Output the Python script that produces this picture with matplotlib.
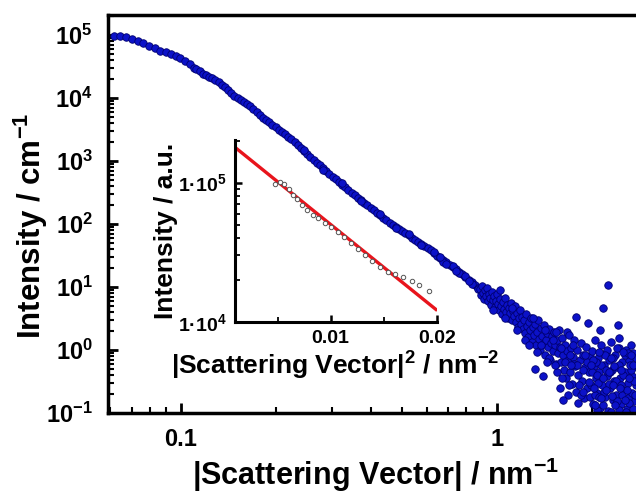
import matplotlib
matplotlib.use('Agg')
import matplotlib.pyplot as plt
from matplotlib.ticker import LogLocator, FixedLocator, FixedFormatter, NullFormatter, MultipleLocator

plt.rcParams['font.family'] = 'Liberation Sans'
plt.rcParams['font.weight'] = 'bold'
plt.rcParams['mathtext.fontset'] = 'custom'
plt.rcParams['mathtext.rm'] = 'Liberation Sans:bold'
plt.rcParams['mathtext.bf'] = 'Liberation Sans:bold'
plt.rcParams['mathtext.it'] = 'Liberation Sans:bold'
plt.rcParams['mathtext.default'] = 'bf'

# main curve: low q (separate dots)
q_low = [0.0616, 0.0643, 0.0671, 0.0701, 0.0733, 0.0762, 0.0794, 0.0828, 0.0860, 0.0897,
         0.0930, 0.0964, 0.0995, 0.103, 0.107, 0.110]
I_low = [96400, 97500, 94000, 87300, 79400, 74600, 67600, 61500, 56400, 53100,
         49400, 46400, 42700, 38700, 34300, 30300]

# main curve: dense band
q_band = [0.1122, 0.1148, 0.1175, 0.1202, 0.1230, 0.1259, 0.1288, 0.1318, 0.1349, 0.1380,
          0.1413, 0.1445, 0.1479, 0.1514, 0.1549, 0.1585, 0.1622, 0.1660, 0.1698, 0.1738,
          0.1778, 0.1820, 0.1862, 0.1905, 0.1950, 0.1995, 0.2042, 0.2089, 0.2138, 0.2188,
          0.2239, 0.2291, 0.2344, 0.2399, 0.2455, 0.2512, 0.2570, 0.2630, 0.2692, 0.2754,
          0.2818, 0.2884, 0.2951, 0.3020, 0.3090, 0.3162, 0.3236, 0.3311, 0.3388, 0.3467,
          0.3548, 0.3631, 0.3715, 0.3802, 0.3890, 0.3981, 0.4074, 0.4169, 0.4266, 0.4365,
          0.4467, 0.4571, 0.4677, 0.4786, 0.4898, 0.5012, 0.5129, 0.5248, 0.5370, 0.5495,
          0.5623, 0.5754, 0.5888, 0.6026, 0.6166, 0.6310, 0.6457, 0.6607, 0.6761, 0.6918,
          0.7079, 0.7244, 0.7413, 0.7586, 0.7762, 0.7943, 0.8128, 0.8318, 0.8511, 0.8710,
          0.8913, 0.9120, 0.9333]
I_band = [28500, 26400, 24300, 22900, 21700, 20600, 19200, 17700, 16100, 14700,
          13200, 12000, 10960, 10000, 9290, 8730, 8050, 7360, 6680, 6000,
          5370, 4900, 4490, 4100, 3760, 3440, 3160, 2900, 2650, 2430,
          2220, 1995, 1790, 1610, 1450, 1300, 1170, 1050, 946, 851,
          766, 689, 619, 561, 509, 462, 420, 380, 345, 314,
          286, 261, 238, 218, 199, 181, 165, 151, 137, 125,
          114, 104, 96.6, 89.5, 82.8, 76.7, 71.0, 65.8, 60.8, 56.4,
          52.2, 48.3, 44.8, 41.4, 38.3, 34.7, 31.5, 28.6, 26.5, 24.5,
          22.7, 20.8, 19.0, 17.4, 15.9, 14.5, 13.1, 11.9, 10.8, 9.82,
          8.87, 8.02, 7.24]

# rough edges of the band
q_rough = [0.2455, 0.2818, 0.3236, 0.3715, 0.4266, 0.4786, 0.5248, 0.5754, 0.6310, 0.6761,
           0.7244, 0.7586, 0.7943, 0.8318, 0.8710, 0.9120, 0.6607, 0.6918, 0.7413, 0.8128]
I_rough = [1520, 730, 440, 228, 143, 86, 69, 46, 36.5, 25.2,
           21.9, 16.5, 15.2, 11.3, 9.3, 8.5, 30.0, 23.2, 18.2, 12.6]

# noisy high q part
q_noisy = [0.884, 0.890, 0.897, 0.903, 0.910, 0.917, 0.923, 0.930, 0.937, 0.944,
           0.950, 0.957, 0.964, 0.971, 0.978, 0.986, 0.993, 1.000, 1.007, 1.015,
           1.022, 1.030, 1.037, 1.045, 1.052, 1.060, 1.068, 1.075, 1.083, 1.091,
           1.099, 1.107, 1.115, 1.123, 1.131, 1.140, 1.148, 1.156, 1.165, 1.173,
           1.182,
           1.190, 1.199, 1.208, 1.217, 1.225, 1.234, 1.243, 1.252, 1.262, 1.271,
           1.280, 1.289, 1.299, 1.308, 1.318, 1.327, 1.337, 1.347, 1.356, 1.366,
           1.376, 1.386, 1.396, 1.406, 1.417, 1.427, 1.437, 1.448, 1.458, 1.469,
           1.480, 1.490, 1.501, 1.512, 1.523, 1.534, 1.546, 1.557, 1.568, 1.580,
           1.318, 1.396, 1.580, 1.534, 1.662,
           1.591, 1.603, 1.615, 1.626, 1.638, 1.650, 1.662, 1.674, 1.687, 1.699,
           1.711, 1.724, 1.736, 1.749, 1.762, 1.775, 1.788, 1.801, 1.775, 1.827,
           1.841, 1.854, 1.868, 1.881, 1.895, 1.909, 1.923, 1.937, 1.951, 1.965,
           1.674, 1.615, 1.801, 1.965, 1.699, 1.749, 1.814, 1.868, 1.923,
           1.980, 1.994, 2.009, 2.023, 2.038, 2.053, 2.068, 2.083, 2.098, 2.114,
           2.129, 2.144, 2.160, 2.176, 2.192, 2.208, 2.240, 2.224, 2.240, 2.256,
           2.273, 2.289, 2.306, 2.323, 2.340, 2.357, 2.374, 2.391, 2.409, 2.426,
           2.444, 2.462, 2.480, 2.426, 2.516, 2.534, 2.553, 2.571, 2.590, 2.609,
           2.628, 2.647, 2.666, 2.686, 2.705, 2.725, 2.745,
           1.994, 2.038, 2.083, 2.129, 2.176, 2.224, 2.273, 2.323, 2.374, 2.426,
           2.480, 2.534, 2.590, 2.647, 2.705, 2.068, 2.160, 2.289, 2.426, 2.553,
           2.686, 2.114, 2.590, 2.053, 2.208, 2.340, 2.498, 2.666, 2.098, 2.256,
           2.391, 2.609, 2.745, 2.023, 2.306, 2.462, 2.628,
           1.225, 1.262, 1.299, 1.337, 1.376, 1.417, 1.458, 1.501, 1.546, 1.591,
           1.638, 1.687, 1.736, 1.788, 1.841, 1.895, 1.951, 2.009, 2.068, 2.129,
           2.192, 2.256, 2.323, 2.391, 2.462, 2.534, 2.609, 2.686, 1.980, 2.038,
           2.160, 2.289, 2.357, 2.498, 2.571, 2.647, 2.725, 2.444, 2.208, 2.098,
           1.868, 1.711, 1.603, 1.523, 1.437, 1.156, 1.115, 1.060, 1.022, 0.971]
I_noisy = [9.30, 7.47, 10.37, 8.03, 6.45, 8.96, 7.20, 9.64, 5.99, 7.74,
           6.69, 5.18, 8.33, 6.22, 7.20, 4.81, 5.99, 7.74, 5.37, 4.31,
           6.45, 4.99, 3.73, 5.78, 4.47, 6.69, 4.01, 5.18, 3.22, 4.64,
           3.87, 5.57, 2.99, 4.16, 3.47, 4.99, 2.78, 3.87, 2.32, 3.22,
           4.31,
           2.59, 3.34, 2.15, 2.99, 1.86, 3.73, 2.40, 1.61, 2.78, 2.08,
           3.22, 1.34, 2.32, 1.73, 2.59, 1.20, 1.93, 2.99, 1.50, 1.00,
           2.24, 1.67, 1.25, 2.49, 0.833, 1.44, 1.86, 1.12, 2.15, 0.694,
           1.29, 1.67, 0.964, 1.93, 1.20, 0.600, 1.44, 0.896, 2.08, 1.12,
           0.499, 0.387, 0.249, 1.93, 1.93,
           0.645, 1.55, 0.833, 0.481, 1.20, 0.359, 0.964, 0.694, 1.73, 0.448,
           1.08, 0.289, 0.774, 1.44, 0.557, 0.215, 1.00, 0.401, 3.34, 0.694,
           1.29, 0.322, 0.833, 0.173, 0.537, 1.12, 0.249, 2.68, 0.448, 0.803,
           0.193, 0.161, 0.144, 0.179, 0.833, 0.600, 0.278, 0.481, 0.645,
           0.278, 0.964, 0.139, 0.557, 1.44, 0.359, 0.208, 0.746, 0.448, 0.120,
           1.20, 0.278, 4.64, 0.578, 0.179, 0.896, 10.76, 0.387, 0.107, 0.694,
           0.249, 1.34, 0.481, 0.161, 0.322, 0.833, 0.193, 0.537, 2.49, 1.08,
           0.359, 0.139, 0.645, 1.55, 0.232, 0.448, 1.00, 0.116, 0.299, 0.694,
           0.186, 1.20, 0.387, 0.896, 0.155, 0.557, 0.278,
           0.448, 0.193, 0.299, 0.578, 0.215, 1.00, 0.448, 0.746, 0.322, 0.578,
           0.193, 0.833, 0.173, 0.481, 0.322, 0.111, 0.134, 0.104, 0.111, 0.104,
           0.116, 2.08, 0.896, 0.645, 0.481, 0.557, 0.401, 0.208, 0.179, 0.289,
           0.155, 0.144, 0.746, 0.249, 0.186, 0.278, 0.578,
           1.44, 1.20, 3.22, 0.930, 1.20, 2.08, 0.746, 1.44, 0.448, 1.08,
           0.645, 0.278, 1.20, 0.578, 0.193, 0.833, 0.310, 0.694, 0.401, 0.173,
           0.833, 0.448, 0.278, 1.08, 0.481, 0.161, 0.359, 0.578, 0.578, 0.134,
           0.359, 0.746, 0.134, 0.930, 0.232, 0.833, 0.193, 0.249, 0.232, 0.930,
           0.215, 0.578, 0.359, 0.578, 0.645, 2.08, 4.64, 3.22, 8.96, 4.31]

# inset: Guinier plot
q2_inset = [0.00472, 0.00519, 0.00559, 0.00604, 0.00644, 0.00686, 0.00733, 0.00776, 0.00833,
            0.00884, 0.00943, 0.01007, 0.01066, 0.01123, 0.01195, 0.01258, 0.01321, 0.01390,
            0.01462, 0.01541, 0.01604, 0.01682, 0.01761, 0.01833, 0.01925]
I_inset = [98400, 101100, 98400, 90200, 82000, 76400, 69500, 63900, 58900,
           55700, 51300, 47700, 43900, 40600, 36800, 33300, 30200, 27200,
           25000, 23000, 22100, 21200, 19700, 18500, 16700]
fit_q2 = [0.001, 0.0199]
fit_I = [179000, 12300]

fig = plt.figure(figsize=(6.36, 4.94), dpi=100)
ax = fig.add_axes([108 / 636, 81 / 494, 528 / 636, 398 / 494])

face = '#0c12c8'
edge = '#000070'
for qq, ii in [(q_low, I_low), (q_band, I_band), (q_rough, I_rough), (q_noisy, I_noisy)]:
    ax.plot(qq, ii, 'o', ms=5.4, mfc=face, mec=edge, mew=0.6, ls='none')

ax.set_xscale('log')
ax.set_yscale('log')
ax.set_xlim(0.059, 2.745)
ax.set_ylim(0.1, 2.08e5)

ax.xaxis.set_major_locator(FixedLocator([0.1, 1]))
ax.xaxis.set_major_formatter(FixedFormatter(['0.1', '1']))
ax.xaxis.set_minor_locator(LogLocator(base=10, subs=range(2, 10), numticks=20))
ax.xaxis.set_minor_formatter(NullFormatter())
yt = [0.1, 1, 10, 100, 1e3, 1e4, 1e5]
ax.yaxis.set_major_locator(FixedLocator(yt))
ax.yaxis.set_major_formatter(FixedFormatter(['10$^{-1}$', '10$^{0}$', '10$^{1}$', '10$^{2}$',
                                             '10$^{3}$', '10$^{4}$', '10$^{5}$']))
ax.yaxis.set_minor_locator(LogLocator(base=10, subs=range(2, 10), numticks=20))
ax.yaxis.set_minor_formatter(NullFormatter())

for s in ['top', 'left', 'bottom']:
    ax.spines[s].set_linewidth(2.5)
ax.spines['right'].set_visible(False)
ax.tick_params(which='major', direction='in', length=7, width=2, labelsize=17, pad=11,
               top=False, right=False)
ax.tick_params(which='minor', direction='in', length=4, width=1.5, top=False, right=False)

fig.text(41 / 636, 1 - 226 / 494, 'Intensity / cm$^{-1}$', rotation=90, rotation_mode='anchor',
         ha='center', va='baseline', fontsize=22.5, fontweight='bold')
fig.text(375 / 636, 1 - 485 / 494, '|Scattering Vector| / nm$^{-1}$', ha='center', va='baseline',
         fontsize=22, fontweight='bold')

# inset
axi = fig.add_axes([235 / 636, 172 / 494, 202 / 636, 182 / 494])
axi.set_facecolor('none')
axi.plot(fit_q2, fit_I, color='#e8141c', lw=2.4, zorder=2)
axi.plot(q2_inset, I_inset, 'o', ms=3.2, mfc='white', mec='#555555', mew=0.7, ls='none', zorder=3)
axi.set_yscale('log')
axi.set_xlim(0.001, 0.02)
axi.set_ylim(1e4, 2.02e5)
axi.xaxis.set_major_locator(FixedLocator([0.01, 0.02]))
axi.xaxis.set_major_formatter(FixedFormatter(['0.01', '0.02']))
axi.xaxis.set_minor_locator(MultipleLocator(0.005))
axi.yaxis.set_major_locator(FixedLocator([1e4, 1e5]))
axi.yaxis.set_major_formatter(FixedFormatter(['1·10$^{4}$', '1·10$^{5}$']))
axi.yaxis.set_minor_locator(LogLocator(base=10, subs=range(2, 10), numticks=20))
axi.yaxis.set_minor_formatter(NullFormatter())
axi.spines['top'].set_visible(False)
axi.spines['right'].set_visible(False)
for s in ['left', 'bottom']:
    axi.spines[s].set_linewidth(2.2)
axi.tick_params(which='major', direction='in', length=5, width=1.8, labelsize=14, pad=6)
axi.tick_params(which='minor', direction='in', length=3.5, width=1.3)

fig.text(173 / 636, 1 - 231 / 494, 'Intensity / a.u.', rotation=90, rotation_mode='anchor',
         ha='center', va='baseline', fontsize=19, fontweight='bold')
fig.text(335 / 636, 1 - 375 / 494, '|Scattering Vector|$^{2}$ / nm$^{-2}$', ha='center',
         va='baseline', fontsize=19, fontweight='bold')

fig.savefig('out.png', dpi=100)
